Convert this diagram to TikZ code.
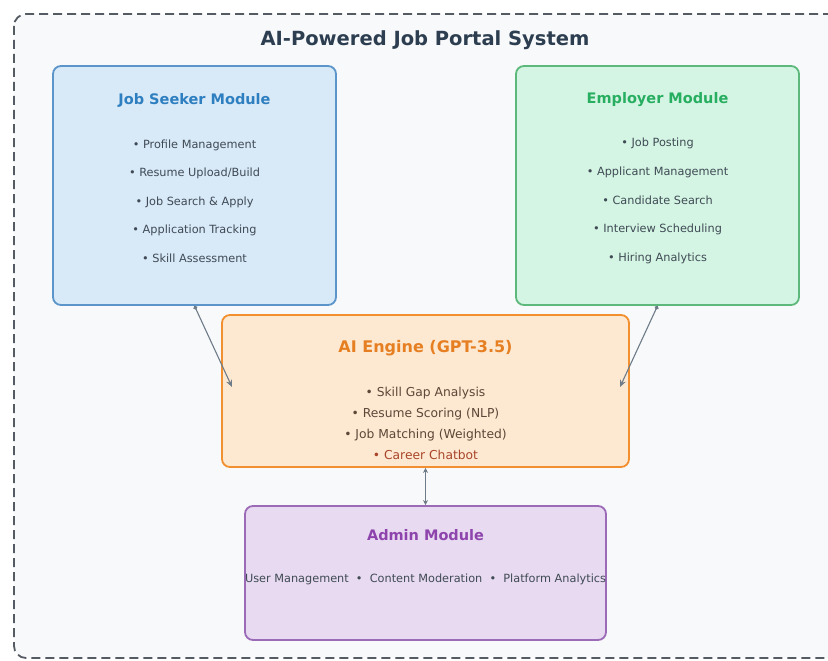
\documentclass[tikz,border=0pt]{standalone}
\usepackage{fontspec}
\setmainfont{DejaVu Sans}
\usetikzlibrary{positioning, shapes.geometric, arrows.meta}

\definecolor{framegray}{HTML}{555B63}
\definecolor{panelbg}{HTML}{F8F9FA}
\definecolor{titlecol}{HTML}{2C3E50}
\definecolor{itemgray}{HTML}{3F4A55}
\definecolor{linkgray}{HTML}{6E7B88}
\definecolor{seekline}{HTML}{5B95C9}
\definecolor{seekfill}{HTML}{D8E9F8}
\definecolor{seektext}{HTML}{2E7FC0}
\definecolor{empline}{HTML}{5DB87B}
\definecolor{empfill}{HTML}{D4F5E3}
\definecolor{emptext}{HTML}{27AE60}
\definecolor{ailine}{HTML}{F2902F}
\definecolor{aifill}{HTML}{FDE9D1}
\definecolor{aitext}{HTML}{E67E22}
\definecolor{aiitem}{HTML}{5E4638}
\definecolor{aichat}{HTML}{A8442A}
\definecolor{admline}{HTML}{9B6BB8}
\definecolor{admfill}{HTML}{E8DAF0}
\definecolor{admtext}{HTML}{8E44AD}

\begin{document}
\begin{tikzpicture} [x=1pt, y=-1pt,
  module/.style={rectangle, rounded corners=8pt, line width=1.8pt, draw},
  heading/.style={font=\bfseries\fontsize{14.5}{17}\selectfont},
  items/.style={align=center, text=itemgray},
  link/.style={draw=linkgray, line width=1.1pt, {Circle[length=4pt]}-{Stealth[length=7pt, width=6pt]}}]
  \useasboundingbox (0,0) rectangle (828,661);
  \fill[white] (0,0) rectangle (828,661);
  % dashed system frame
  \draw[framegray, line width=1.8pt, dash pattern=on 9pt off 5pt, rounded corners=12pt, fill=panelbg]
    (14,14) rectangle (850,658);
  \draw (425,40) node[font=\bfseries\fontsize{19.5}{23}\selectfont, text=titlecol] (title) {AI-Powered Job Portal System};

  % modules
  \draw (194.5,185.5) node[module, draw=seekline, fill=seekfill, minimum width=283pt, minimum height=239pt] (seek) {};
  \draw (657.5,185.5) node[module, draw=empline, fill=empfill, minimum width=283pt, minimum height=239pt] (emp) {};
  \draw (425.5,391)   node[module, draw=ailine, fill=aifill, minimum width=407pt, minimum height=152pt] (ai) {};
  \draw (425.5,573)   node[module, draw=admline, fill=admfill, minimum width=361pt, minimum height=134pt] (adm) {};

  \draw (194.5,100) node[heading, text=seektext] (seekhd) {Job Seeker Module};
  \draw (194.5,201) node[items, font=\fontsize{11.3}{28.6}\selectfont] (seekit)
    {• Profile Management\\ • Resume Upload/Build\\ • Job Search \& Apply\\ • Application Tracking\\ • Skill Assessment};

  \draw (657.5,100) node[heading, text=emptext] (emphd) {Employer Module};
  \draw (657.5,201) node[items, font=\fontsize{11.3}{28.6}\selectfont] (empit)
    {• Job Posting\\ • Applicant Management\\ • Candidate Search\\ • Interview Scheduling\\ • Hiring Analytics};

  \draw (425.5,348) node[text=aitext, font=\bfseries\fontsize{16}{19}\selectfont] (aihd) {AI Engine (GPT-3.5)};
  \draw (425.5,423.5) node[items, text=aiitem, font=\fontsize{12.3}{21}\selectfont] (aiit)
    {• Skill Gap Analysis\\ • Resume Scoring (NLP)\\ • Job Matching (Weighted)\\ {\color{aichat}• Career Chatbot}};

  \draw (425.5,535) node[heading, text=admtext] (admhd) {Admin Module};
  \draw (425.5,579) node[items, font=\fontsize{11.3}{13}\selectfont] (admit)
    {User Management\ \ •\ \ Content Moderation\ \ •\ \ Platform Analytics};

  % data flow
  \coordinate (aiL) at (232,387);
  \coordinate (aiR) at (620,387);
  \draw[link] (seek.south) -- (aiL);
  \draw[link] (emp.south) -- (aiR);
  \draw[link, {Stealth[length=5pt, width=5pt]}-{Stealth[length=5pt, width=5pt]}] (ai.south) -- (adm.north);
\end{tikzpicture}
\end{document}
